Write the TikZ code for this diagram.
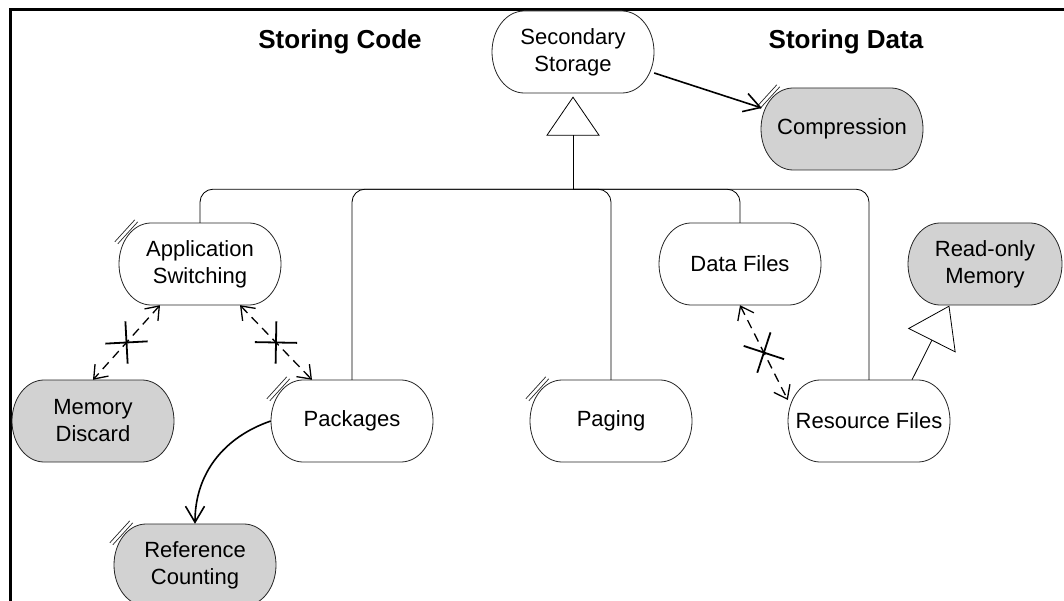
\documentclass[tikz,border=0pt]{standalone}
\usepackage{fontspec}
\setmainfont{Liberation Sans}
\usetikzlibrary{arrows.meta,calc,decorations.markings}
\definecolor{shade}{HTML}{D2D2D2}
\tikzset{
  x=1pt, y=1pt,
  nd/.style={inner sep=0pt, minimum height=82pt, align=center, font=\fontsize{22}{27}\selectfont},
  outl/.style={draw=black!85, line width=0.8pt},
  title/.style={font=\bfseries\fontsize{26}{30}\selectfont, anchor=base, inner sep=0pt},
  tree/.style={draw=black, line width=0.8pt},
  branch/.style={tree, rounded corners=13pt},
  dasharr/.style={line width=1.3pt, dash pattern=on 9pt off 6pt,
    {Straight Barb[length=12pt,width=18pt]}-{Straight Barb[length=12pt,width=18pt]},
    postaction={decorate},
    decoration={markings, mark=at position 0.5 with {\draw[solid, line width=1.8pt, -] (-15,-15) -- (15,15) (-15,15) -- (15,-15);}}},
  solidarr/.style={line width=1.6pt, -{Straight Barb[length=16pt,width=19pt]}},
  slash/.style={line width=0.7pt, draw=black!85},
  frame/.style={line width=3pt, draw=black}
}
\newcommand\stadnode[6]{%
  \filldraw[outl, fill=#5] (#2-#4/2+32, #3+41) -- (#2+#4/2-32, #3+41)
    arc[start angle=90, end angle=-90, x radius=32pt, y radius=41pt]
    -- (#2-#4/2+32, #3-41)
    arc[start angle=270, end angle=90, x radius=32pt, y radius=41pt] -- cycle;
  \node[nd, minimum width=#4pt] (#1) at (#2,#3) {#6};
}
\newcommand\slashmark[1]{%
  \draw[slash] ($(#1.north west)+(-1,-21)$) -- ($(#1.north west)+(19,1)$);
  \draw[slash] ($(#1.north west)+(-4,-19)$) -- ($(#1.north west)+(16,3)$);
}
\begin{document}
\begin{tikzpicture}
\useasboundingbox (0,0) rectangle (1064,-601);
% frame
\draw[frame] (1064,-10) -- (10,-10) -- (10,-601);
% titles
\node[title] (tcode) at (340,-49) {Storing Code};
\node[title] (tdata) at (846,-49) {Storing Data};
% nodes
\stadnode{sec}{573}{-52}{162}{white}{Secondary\\Storage}
\stadnode{comp}{842}{-129}{162}{shade}{Compression}
\stadnode{appsw}{200}{-264}{162}{white}{Application\\Switching}
\stadnode{dataf}{740}{-264}{162}{white}{Data Files}
\stadnode{rom}{985}{-264}{154}{shade}{Read-only\\Memory}
\stadnode{memd}{93}{-421}{162}{shade}{Memory\\Discard}
\stadnode{pack}{352}{-421}{162}{white}{Packages}
\stadnode{pag}{611}{-421}{162}{white}{Paging}
\stadnode{resf}{869}{-421}{162}{white}{Resource Files}
\stadnode{refc}{195}{-565}{162}{shade}{Reference\\Counting}
\slashmark{comp}
\slashmark{appsw}
\slashmark{pack}
\slashmark{pag}
\slashmark{refc}
% generalization of Secondary Storage
\coordinate (apex) at ($(sec.south)+(0,-4)$);
\coordinate (trib) at ($(apex)+(0,-38)$);
\coordinate (bus) at ($(trib)+(0,-54)$);
\draw[tree, fill=white] (apex) -- ($(trib)+(-26,0)$) -- ($(trib)+(26,0)$) -- cycle;
\draw[tree] (trib) -- (bus);
\draw[branch] (bus) -| (appsw.north);
\draw[branch] (bus) -| (pack.north);
\draw[branch] (bus) -| (pag.north);
\draw[branch] (bus) -| (dataf.north);
\draw[branch] (bus) -| (resf.north);
% generalization Resource Files -> Read-only Memory
\coordinate (rapex) at ($(rom.south)+(-36,-1)$);
\coordinate (rstart) at ($(resf.north)+(43,0)$);
\coordinate (rbm) at ($(rapex)!38pt!(rstart)$);
\draw[tree] (rstart) -- (rbm);
\draw[tree, fill=white] (rapex) -- ($(rbm)!26pt!90:(rapex)$) -- ($(rbm)!26pt!-90:(rapex)$) -- cycle;
% dashed associations
\draw[dasharr] ($(appsw.south)+(-40,0)$) -- (memd.north);
\draw[dasharr] ($(appsw.south)+(40,0)$) -- ($(pack.north)+(-40,0)$);
\draw[dasharr] (dataf.south) -- ($(resf.west)+(0,21)$);
% solid arrows
\draw[solidarr] ($(sec.east)+(0,-21)$) -- ($(comp.west)+(1,21)$);
\draw[solidarr] (pack.west) to[out=199, in=90] (refc.north);
\end{tikzpicture}
\end{document}
